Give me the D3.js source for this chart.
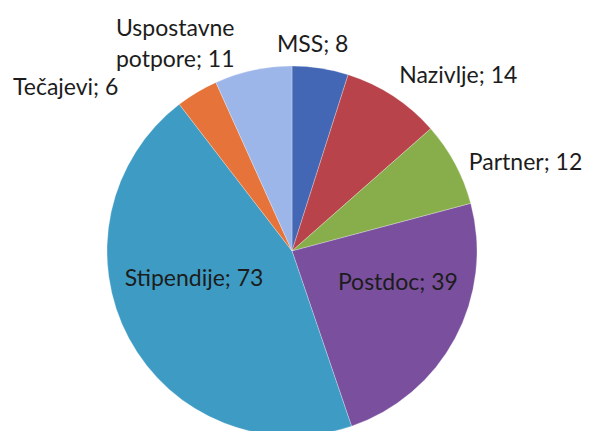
<!DOCTYPE html>
<html lang="hr">
<head>
    <meta charset="UTF-8">
    <title>Raspodjela</title>
    <script src="https://d3js.org/d3.v7.min.js"></script>
    <style>
        body { margin: 0; background: #fff; }
        text { font-family: Lato, "Open Sans", sans-serif; fill: #1c1c1c; }
    </style>
</head>
<body>
    <svg id="chart" width="589" height="431"></svg>

    <script>
        const width = 589, height = 431;

        // data
        const categories = ["MSS", "Nazivlje", "Partner", "Postdoc", "Stipendije", "Tečajevi", "Uspostavne potpore"];
        const values = [8, 14, 12, 39, 73, 6, 11];
        const colors = ["#4367b4", "#b8434a", "#87ae4a", "#7a509e", "#3e9cc4", "#e6743a", "#9cb6e9"];

        // label lines (Excel wraps the long one)
        const labelLines = {
            "Uspostavne potpore": ["Uspostavne", "potpore; 11"]
        };
        // nudges from the arc label point, like Excel's best-fit placement
        const labelNudge = {
            "MSS": [-12, 11],
            "Nazivlje": [50, 10],
            "Partner": [46, 19],
            "Postdoc": [8, -13],
            "Stipendije": [0, -17],
            "Tečajevi": [-117, 27],
            "Uspostavne potpore": [-72, -7]
        };
        const inside = ["Postdoc", "Stipendije"];

        const cx = 292, cy = 251, radius = 185;

        const svg = d3.select("#chart");
        const g = svg.append("g").attr("transform", `translate(${cx},${cy})`);

        const data = categories.map((c, i) => ({ name: c, value: values[i] }));

        const pie = d3.pie()
            .value(d => d.value)
            .sort(null);

        const color = d3.scaleOrdinal().domain(categories).range(colors);

        const arc = d3.arc().innerRadius(0).outerRadius(radius);
        const outArc = d3.arc().innerRadius(radius * 1.15).outerRadius(radius * 1.15);
        const inArc = d3.arc().innerRadius(radius * 0.6).outerRadius(radius * 0.6);

        const arcs = pie(data);

        g.selectAll("path.slice")
            .data(arcs)
            .join("path")
            .attr("class", "slice")
            .attr("d", arc)
            .attr("fill", d => color(d.data.name))
            .attr("stroke", "#fff")
            .attr("stroke-opacity", 0.45)
            .attr("stroke-width", 0.6);

        const labels = g.selectAll("text.lbl")
            .data(arcs)
            .join("text")
            .attr("class", "lbl")
            .attr("text-anchor", "middle")
            .style("font-size", "23px")
            .attr("transform", d => {
                const p = (inside.includes(d.data.name) ? inArc : outArc).centroid(d);
                const n = labelNudge[d.data.name];
                return `translate(${p[0] + n[0]},${p[1] + n[1]})`;
            });

        labels.each(function(d) {
            const lines = labelLines[d.data.name] || [d.data.name + "; " + d.data.value];
            d3.select(this).selectAll("tspan")
                .data(lines)
                .join("tspan")
                .attr("x", 0)
                .attr("dy", (l, i) => i === 0 ? 0 : 31)
                .text(l => l);
        });
    </script>
</body>
</html>
